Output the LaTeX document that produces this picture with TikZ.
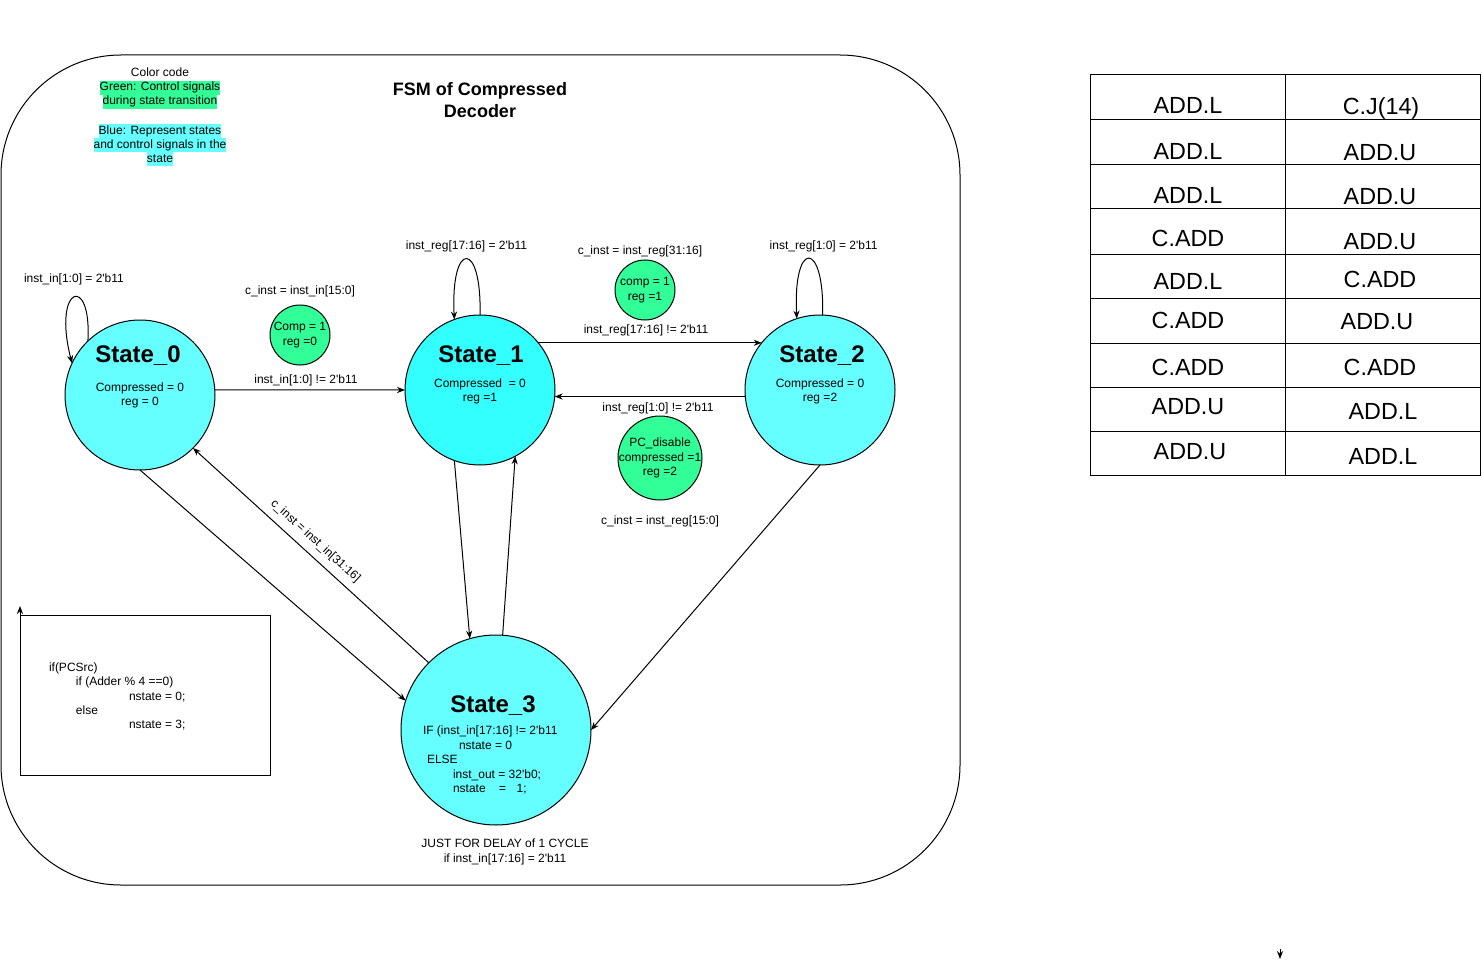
\documentclass[tikz,border=0pt]{standalone}
\usepackage{fontspec}
\setmainfont{Liberation Sans}
\usetikzlibrary{arrows.meta}

\definecolor{greenfill}{HTML}{33FF99}
\definecolor{cyanfill}{HTML}{66FFFF}
\definecolor{cyanfillb}{HTML}{33FFFF}
\newcommand{\straightq}{\textquotesingle}
\newcommand{\hlbox}[2]{{\setlength{\fboxsep}{0pt}\colorbox{#1}{\strut #2}}}

\begin{document}
\begin{tikzpicture}[x=0.75pt, y=-0.75pt, line width=0.75pt,
    >={Stealth[length=6pt, width=4.6pt]},
    every node/.style={inner sep=0pt, outer sep=0pt, font=\fontsize{9}{10.8}\selectfont},
    fsmstate/.style={circle, draw, fill=cyanfill, minimum size=112.5pt},
    ctrl/.style={circle, draw, fill=greenfill, minimum size=45pt, inner sep=-3pt, align=center},
    statename/.style={font=\fontsize{18}{22}\selectfont\bfseries},
    cell/.style={font=\fontsize{17.5}{21}\selectfont}]
    \useasboundingbox (0,0) rectangle (1482,970);
    \draw [rounded corners=90pt] (1,55) rectangle (960,885);

    % colour code and title
    \node (ccode) at (160,72) {Color code};
    \node [align=center, font=\fontsize{9}{10.2}\selectfont] (cgreen) at (160,95)
      {\hlbox{greenfill}{Green: Control signals}\\\hlbox{greenfill}{during state transition}};
    \node [align=center, font=\fontsize{9}{10.5}\selectfont] (cblue) at (160,145.5)
      {\hlbox{cyanfill}{Blue: Represent states}\\\hlbox{cyanfill}{and control signals in the}\\\hlbox{cyanfill}{state}};
    \node [align=center, font=\fontsize{13.5}{16.5}\selectfont\bfseries] (fsmtitle) at (480,100)
      {FSM of Compressed\\Decoder};

    % states
    \node [fsmstate] (s0) at (140,395) {};
    \node [fsmstate, fill=cyanfillb] (s1) at (480,390) {};
    \node [fsmstate] (s2) at (820,390) {};
    \node [fsmstate, minimum size=142.5pt] (s3) at (496,730) {};
    \path (138,356)   node [statename] (s0name) {State\_0}
          (140,395.5) node [align=center] (s0out) {Compressed = 0\\reg = 0}
          (481,356)   node [statename] (s1name) {State\_1}
          (480,391.5) node [align=center] (s1out) {Compressed\ \ = 0\\reg =1}
          (822,356)   node [statename] (s2name) {State\_2}
          (820,391.5) node [align=center] (s2out) {Compressed = 0\\reg =2}
          (493,706)   node [statename] (s3name) {State\_3};
    \node [align=left, anchor=north west, font=\fontsize{9}{10.9}\selectfont] (s3out) at (423,726)
      {IF (inst\_in[17:16] != 2\straightq b11\\
       \hspace*{27pt}nstate = 0\\
       \hspace*{3pt}ELSE\\
       \hspace*{22.5pt}inst\_out = 32\straightq b0;\\
       \hspace*{22.5pt}nstate\hspace{10pt}=\hspace{8pt}1;};
    \node [align=center, font=\fontsize{9}{11.25}\selectfont] (s3note) at (505,851.5)
      {JUST FOR DELAY of 1 CYCLE\\if inst\_in[17:16] = 2\straightq b11};

    % control signals on transitions
    \node [ctrl] (cg0) at (300,335) {Comp = 1\\reg =0};
    \node [ctrl] (cg1) at (645,290) {comp = 1\\reg =1};
    \node [ctrl, minimum size=63pt] (cg2) at (660,458) {PC\_disable\\compressed =1\\reg =2};
    \path (300,291) node (lg0) {c\_inst = inst\_in[15:0]}
          (640,251) node (lg1) {c\_inst = inst\_reg[31:16]}
          (660,521) node (lg2) {c\_inst = inst\_reg[15:0]};

    % transitions
    \draw [->] (s0.134) .. controls +(4,-68) and +(-20,-78) .. (s0.155)
      node [pos=0.5, above=9pt] (l00) {inst\_in[1:0] = 2\straightq b11};
    \draw [->] (s1.90) .. controls +(2,-75) and +(-4,-80) .. (s1.110)
      node [pos=0.5, above=5pt] (l11) {inst\_reg[17:16] = 2\straightq b11};
    \draw [->] (s2.88) .. controls +(2,-75) and +(-4,-80) .. (s2.108)
      node [pos=0.5, above=5pt, xshift=11pt] (l22) {inst\_reg[1:0] = 2\straightq b11};
    \draw [->] (s0.4) -- (s1.west)
      node [midway, above=3pt, xshift=-3pt] (l01) {inst\_in[1:0] != 2\straightq b11};
    \draw [->] (s1.39) -- (s2.141)
      node [midway, above=5pt, xshift=-3pt] (l12) {inst\_reg[17:16] != 2\straightq b11};
    \draw [->] (s2.185) -- (s1.-5)
      node [midway, below=5pt, xshift=6pt] (l21) {inst\_reg[1:0] != 2\straightq b11};
    \draw [->] (s2.south) -- (s3.east);
    \draw [->] (s1.250) -- (s3.106);
    \draw [->] (s3.86) -- (s1.-62);
    \draw [->] (s0.south) -- (s3.162);
    \draw [->] (s3.135) -- (s0.-45)
      node [pos=0.52, sloped, above=6pt] (l30) {c\_inst = inst\_in[31:16]};

    % next state logic
    \node [draw, minimum width=187.5pt, minimum height=120pt] (codebox) at (145,695) {};
    \node [align=left, anchor=north west, font=\fontsize{9}{10.7}\selectfont] (codetxt) at (49,663)
      {if(PCSrc)\\
       \hspace*{20.25pt}if (Adder \% 4 ==0)\\
       \hspace*{60pt}nstate = 0;\\
       \hspace*{20.25pt}else\\
       \hspace*{60pt}nstate = 3;};
    \coordinate (codeup) at (20,606);
    \draw [->] (codebox.north west) -- (codeup);

    % instruction table
    \draw (1090,75) rectangle (1480,475);
    \draw (1285,75) -- (1285,475);
    \foreach \y in {120,165,209,254,298,343,387,431}
      \draw (1090,\y) -- (1480,\y);
    \foreach \txt/\cx/\cy [count=\i] in
      {ADD.L/1188/105, C.J(14)/1381/108, ADD.L/1188/151, ADD.U/1380/153,
       ADD.L/1188/195, ADD.U/1380/197, C.ADD/1188/238, ADD.U/1380/242,
       ADD.L/1188/281, C.ADD/1380/279, C.ADD/1188/320, ADD.U/1377/322,
       C.ADD/1188/367, C.ADD/1380/367, ADD.U/1188/407, ADD.L/1383/411,
       ADD.U/1190/452, ADD.L/1383/456}
      \node [cell] (cell\i) at (\cx,\cy) {\txt};

    \coordinate (stray) at (1280,949);
    \coordinate (strayend) at (1280,959);
    \draw [->] (stray) -- (strayend);
\end{tikzpicture}
\end{document}
